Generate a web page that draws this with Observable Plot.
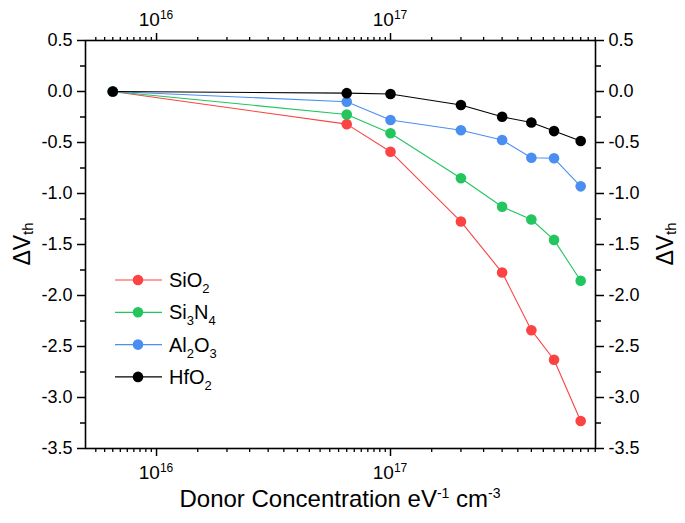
<!DOCTYPE html>
<html><head><meta charset="utf-8">
<script src="https://cdn.jsdelivr.net/npm/d3@7"></script>
<script src="https://cdn.jsdelivr.net/npm/@observablehq/plot@0.6"></script>
<style>
body{margin:0;background:#fff}
svg{font-family:"Liberation Sans",Arial,sans-serif}
</style>
</head><body><div id="chart"></div>
<script>
// ---- data ----
const concentration = [6.5e15, 6.5e16, 1e17, 2e17, 3e17, 4e17, 5e17, 6.5e17];
const seriesNames = ["SiO2", "Si3N4", "Al2O3", "HfO2"];
const seriesColors = ["#fb4343", "#22c55e", "#4a8ef2", "#000000"];
const SiO2  = [0, -0.32, -0.59, -1.275, -1.775, -2.34, -2.63, -3.23];
const Si3N4 = [0, -0.225, -0.41, -0.85, -1.13, -1.255, -1.455, -1.855];
const Al2O3 = [0, -0.10, -0.28, -0.38, -0.475, -0.65, -0.655, -0.93];
const HfO2  = [0, -0.016, -0.025, -0.133, -0.248, -0.304, -0.388, -0.486];
const xMajorTicks = [1e16, 1e17];
const xMinorTicks = [5.5e15, 6e15, 6.5e15, 7e15, 7.5e15, 8e15, 8.5e15, 9e15, 9.5e15,
  1.5e16, 2e16, 2.5e16, 3e16, 3.5e16, 4e16, 4.5e16, 5e16, 5.5e16, 6e16, 6.5e16, 7e16, 7.5e16, 8e16, 8.5e16, 9e16, 9.5e16,
  1.5e17, 2e17, 2.5e17, 3e17, 3.5e17, 4e17, 4.5e17, 5e17, 5.5e17, 6e17, 6.5e17, 7e17, 7.5e17];
const xTickExponents = ["16", "17"];
const yMajorTicks = [-3.5, -3, -2.5, -2, -1.5, -1, -0.5, 0, 0.5];
const yMinorTicks = [-3.25, -2.75, -2.25, -1.75, -1.25, -0.75, -0.25, 0.25];
const xTitle = [["Donor Concentration eV", 0], ["-1", 1], [" cm", 0], ["-3", 1]];
const yTitle = [["\u0394V", 0], ["th", -1]];

const values = [SiO2, Si3N4, Al2O3, HfO2];
const rows = seriesNames.flatMap((name, i) =>
  concentration.map((c, j) => ({series: name, x: c, y: values[i][j]})));

const W = 685, H = 523;
const font = "'Liberation Sans', Arial, sans-serif";
const plot = Plot.plot({
  width: W, height: H,
  marginLeft: 85, marginRight: 90, marginTop: 40, marginBottom: 75,
  x: {type: "log", domain: [4.97e15, 7.52e17]},
  y: {domain: [-3.5, 0.5]},
  color: {domain: seriesNames, range: seriesColors},
  style: {fontFamily: font, fontSize: "18px", color: "#000", background: "#fff"},
  marks: [
    Plot.line(rows, {x: "x", y: "y", z: "series", stroke: "series", strokeWidth: 1.1}),
    Plot.dot(rows, {x: "x", y: "y", fill: "series", r: 5.3}),
    Plot.frame({strokeWidth: 1.6}),
    Plot.axisY(yMajorTicks, {anchor: "left", tickSize: 8, tickPadding: 5, tickFormat: d => d.toFixed(1), label: null, strokeWidth: 1.5, fontSize: 18}),
    Plot.axisY(yMajorTicks, {anchor: "right", tickSize: 8, tickPadding: 5, tickFormat: d => d.toFixed(1), label: null, strokeWidth: 1.5, fontSize: 18}),
    Plot.axisY(yMinorTicks, {anchor: "left", tickSize: 5, tickFormat: () => "", label: null, strokeWidth: 1.5}),
    Plot.axisY(yMinorTicks, {anchor: "right", tickSize: 5, tickFormat: () => "", label: null, strokeWidth: 1.5}),
    Plot.axisX(xMajorTicks, {anchor: "bottom", tickSize: 8, tickFormat: () => "", label: null, strokeWidth: 1.5}),
    Plot.axisX(xMajorTicks, {anchor: "top", tickSize: 8, tickFormat: () => "", label: null, strokeWidth: 1.5}),
    Plot.axisX(xMinorTicks, {anchor: "bottom", tickSize: 4, tickFormat: () => "", label: null, strokeWidth: 1.3}),
    Plot.axisX(xMinorTicks, {anchor: "top", tickSize: 4, tickFormat: () => "", label: null, strokeWidth: 1.3})
  ]
});
document.getElementById("chart").appendChild(plot);

// ---- rich text helpers (superscripts / subscripts) ----
function rich(textSel, parts, size, smallSize, shift) {
  let prev = 0;
  parts.forEach(([t, s]) => {
    const dy = (s * -shift) - (prev * -shift);
    textSel.append("tspan").attr("dy", dy).style("font-size", (s ? smallSize : size) + "px").text(t);
    prev = s;
  });
}
const svg = d3.select(plot);
const xs = plot.scale("x"), ys = plot.scale("y");

// x tick labels top & bottom: 10^n
xMajorTicks.forEach((v, i) => {
  [479, 26].forEach(by => {
    const t = svg.append("text").attr("x", xs.apply(v)).attr("y", by)
      .attr("text-anchor", "middle").attr("font-family", font).attr("fill", "#000");
    rich(t, [["10", 0], [xTickExponents[i], 1]], 19, 12, 7);
  });
});

// x title
const xt = svg.append("text").attr("x", (xs.apply(xs.domain[0]) + xs.apply(xs.domain[1])) / 2).attr("y", 507)
  .attr("text-anchor", "middle").attr("font-family", font).attr("fill", "#000");
rich(xt, xTitle, 24, 14, 9);

// y titles left & right
[22, 665].forEach(cx => {
  const cy = (ys.apply(0.5) + ys.apply(-3.5)) / 2;
  const t = svg.append("text").attr("transform", `translate(${cx},${cy}) rotate(-90)`)
    .attr("text-anchor", "middle").attr("dominant-baseline", "central").attr("font-family", font).attr("fill", "#000");
  rich(t, yTitle, 23, 15, 5);
});

// legend
const lg = svg.append("g").attr("font-family", font).attr("text-anchor", "start");
seriesNames.forEach((name, i) => {
  const y = 280 + i * 32.3;
  lg.append("line").attr("x1", 115).attr("x2", 162).attr("y1", y).attr("y2", y)
    .attr("stroke", seriesColors[i]).attr("stroke-width", 1.2);
  lg.append("circle").attr("cx", 138).attr("cy", y).attr("r", 5.3).attr("fill", seriesColors[i]);
  const t = lg.append("text").attr("x", 169).attr("y", y + 7).attr("fill", "#000").attr("text-anchor", "start");
  const parts = name.match(/[A-Za-z]+|\d+/g).map(p => [p, /\d/.test(p) ? -1 : 0]);
  rich(t, parts, 20, 13, 6);
});
</script>
</body></html>
